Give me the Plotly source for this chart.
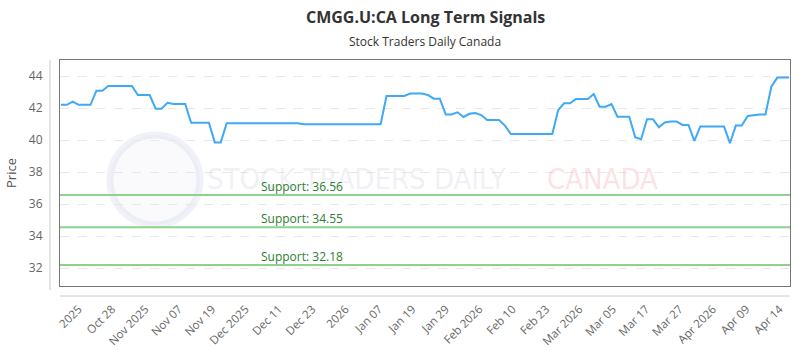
import plotly.graph_objects as go

# ---- data ----
prices = [
    42.2, 42.2, 42.4, 42.2, 42.2, 42.2, 43.08, 43.08, 43.38, 43.38,
    43.38, 43.38, 43.38, 42.81, 42.81, 42.81, 41.96, 41.96, 42.33, 42.25,
    42.25, 42.25, 41.08, 41.08, 41.08, 41.08, 39.85, 39.85, 41.05, 41.05,
    41.05, 41.05, 41.05, 41.05, 41.05, 41.05, 41.05, 41.05, 41.05, 41.05,
    41.05, 40.98, 40.98, 40.98, 40.98, 40.98, 40.98, 40.98, 40.98, 40.98,
    40.98, 40.98, 40.98, 40.98, 40.98, 42.75, 42.75, 42.75, 42.75, 42.9,
    42.9, 42.9, 42.81, 42.58, 42.58, 41.6, 41.6, 41.73, 41.44, 41.64,
    41.69, 41.56, 41.25, 41.25, 41.25, 40.9, 40.375, 40.375, 40.375, 40.375,
    40.375, 40.375, 40.375, 40.375, 41.875, 42.29, 42.29, 42.56, 42.56, 42.56,
    42.875, 42.08, 42.08, 42.25, 41.46, 41.46, 41.46, 40.17, 40.05, 41.3,
    41.3, 40.8, 41.1, 41.15, 41.15, 40.94, 40.94, 39.94, 40.85, 40.85,
    40.85, 40.85, 40.85, 39.8, 40.9, 40.9, 41.5, 41.55, 41.6, 41.6,
    43.33, 43.9, 43.9, 43.9,
]
tick_labels = [
    "2025", "Oct 28", "Nov 2025", "Nov 07", "Nov 19", "Dec 2025", "Dec 11",
    "Dec 23", "2026", "Jan 07", "Jan 19", "Jan 29", "Feb 2026", "Feb 10",
    "Feb 23", "Mar 2026", "Mar 05", "Mar 17", "Mar 27", "Apr 2026",
    "Apr 09", "Apr 14",
]
support_levels = [36.56, 34.55, 32.18]
y_ticks = [32, 34, 36, 38, 40, 42, 44]

n = len(prices)
xs = list(range(n))
# evenly spaced label positions along the index axis
first_tick = 3.0
tick_step = (n - 1 - 1.6 - first_tick) / (len(tick_labels) - 1)
tick_vals = [first_tick + tick_step * j for j in range(len(tick_labels))]

FONT = "Open Sans, sans-serif"
PLOT_H = 226.0
PLOT_W = 730.0

fig = go.Figure()

# watermark (drawn first, faint)
fig.add_shape(type="circle", xref="paper", yref="paper",
              x0=(110 - 60) / PLOT_W, x1=(200 - 60) / PLOT_W,
              y0=(286 - 225) / PLOT_H, y1=(286 - 135) / PLOT_H,
              line=dict(color="rgba(200,210,225,0.28)", width=7),
              fillcolor="rgba(230,234,240,0.22)", layer="below")
fig.add_annotation(
    x=(205 - 60) / PLOT_W, xref="paper", y=(286 - 179) / PLOT_H, yref="paper",
    text="STOCK TRADERS DAILY", showarrow=False, xanchor="left", yanchor="middle",
    font=dict(family="DejaVu Sans Condensed, DejaVu Sans", size=29,
              color="rgba(200,208,222,0.3)"),
)
fig.add_annotation(
    x=(545 - 60) / PLOT_W, xref="paper", y=(286 - 179) / PLOT_H, yref="paper",
    text="CANADA", showarrow=False, xanchor="left", yanchor="middle",
    font=dict(family="DejaVu Sans Condensed, DejaVu Sans", size=29,
              color="rgba(245,150,165,0.3)"),
)

# support lines
for lvl in support_levels:
    fig.add_trace(go.Scatter(
        x=[-0.2, n - 1 + 0.2], y=[lvl, lvl], mode="lines",
        line=dict(color="#8fd18f", width=2), hoverinfo="skip", showlegend=False,
    ))
    fig.add_annotation(
        x=(259 - 60) / PLOT_W, xref="paper", y=lvl, yref="y", yshift=9,
        text=f"Support: {lvl:.2f}", showarrow=False, xanchor="left",
        font=dict(family=FONT, size=12, color="#2e7d32"),
    )

fig.add_trace(go.Scatter(
    x=xs, y=prices, mode="lines",
    line=dict(color="#3fa9f5", width=2), showlegend=False,
))

# title / subtitle
fig.add_annotation(
    x=0.5, xref="paper", y=(286 - 17) / PLOT_H, yref="paper",
    text="<b>CMGG.U:CA Long Term Signals</b>", showarrow=False,
    xanchor="center", yanchor="middle",
    font=dict(family=FONT, size=16, color="#333333"),
)
fig.add_annotation(
    x=0.5, xref="paper", y=(286 - 41) / PLOT_H, yref="paper",
    text="Stock Traders Daily Canada", showarrow=False,
    xanchor="center", yanchor="middle",
    font=dict(family=FONT, size=12, color="#333333"),
)

# offset light axis lines
fig.add_shape(type="line", xref="paper", yref="paper",
              x0=-10 / PLOT_W, x1=-10 / PLOT_W, y0=-4 / PLOT_H, y1=1,
              line=dict(color="#cccccc", width=1))
fig.add_shape(type="line", xref="paper", yref="paper",
              x0=0, x1=1, y0=-10 / PLOT_H, y1=-10 / PLOT_H,
              line=dict(color="#cccccc", width=1))

fig.update_layout(
    width=800, height=350,
    margin=dict(l=60, r=10, t=60, b=64, autoexpand=False),
    paper_bgcolor="white", plot_bgcolor="white",
    xaxis=dict(
        range=[-0.15, n - 1 + 0.15], tickmode="array", tickvals=tick_vals,
        ticktext=tick_labels, tickangle=-45, showgrid=False, zeroline=False,
        showline=True, mirror=True, linecolor="#777777", linewidth=1,
        ticks="outside", ticklen=11, tickcolor="rgba(0,0,0,0)",
        automargin=False,
        tickfont=dict(family=FONT, size=11.5, color="#666666"),
    ),
    yaxis=dict(
        range=[30.875, 45.0], tickmode="array", tickvals=y_ticks,
        showgrid=True, gridcolor="#e8e8e8", griddash="dash", zeroline=False,
        showline=True, mirror=True, linecolor="#777777", linewidth=1,
        ticks="outside", ticklen=14, tickcolor="rgba(0,0,0,0)",
        automargin=False,
        tickfont=dict(family=FONT, size=12, color="#666666"),
        title=dict(text="Price", standoff=9,
                   font=dict(family=FONT, size=13, color="#555555")),
    ),
)

fig.write_html("out.html")
